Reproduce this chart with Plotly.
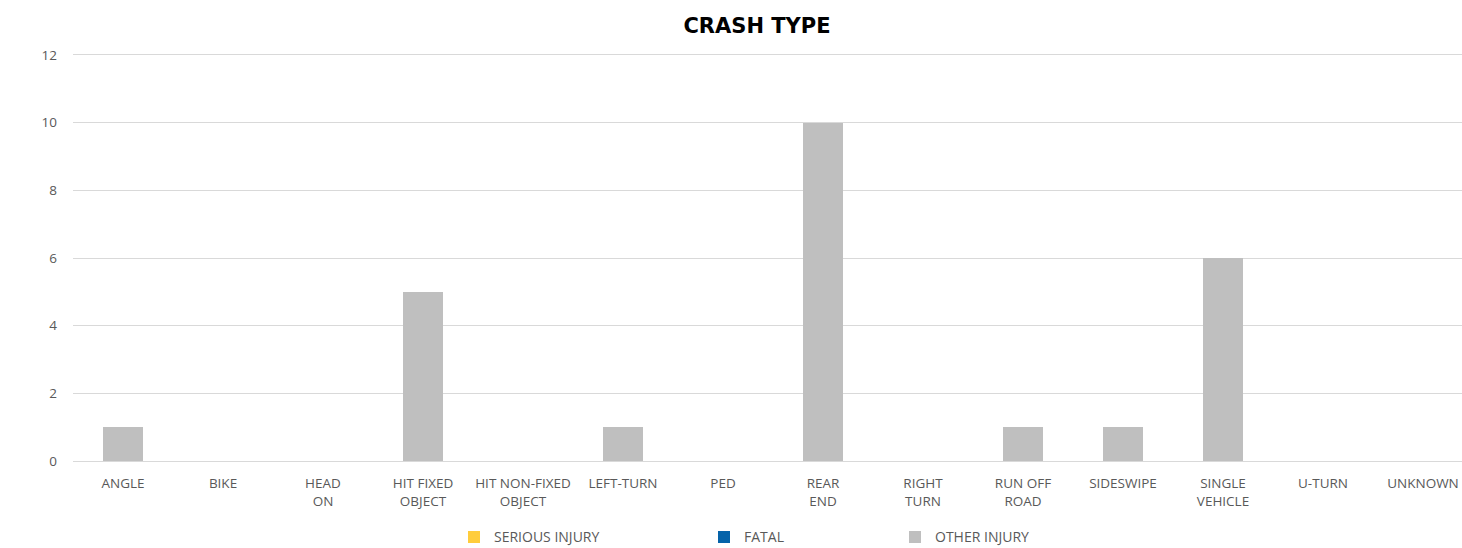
import plotly.graph_objects as go

categories = ["ANGLE", "BIKE", "HEAD<br>ON", "HIT FIXED<br>OBJECT", "HIT NON-FIXED<br>OBJECT",
              "LEFT-TURN", "PED", "REAR<br>END", "RIGHT<br>TURN", "RUN OFF<br>ROAD",
              "SIDESWIPE", "SINGLE<br>VEHICLE", "U-TURN", "UNKNOWN"]
serious_injury = [0, 0, 0, 0, 0, 0, 0, 0, 0, 0, 0, 0, 0, 0]
fatal = [0, 0, 0, 0, 0, 0, 0, 0, 0, 0, 0, 0, 0, 0]
other_injury = [1, 0, 0, 5, 0, 1, 0, 10, 0, 1, 1, 6, 0, 0]

FONT = "Open Sans"
fig = go.Figure()
series = [("SERIOUS INJURY", serious_injury, "#FFCD3C", "legend"),
          ("FATAL", fatal, "#0563A9", "legend2"),
          ("OTHER INJURY", other_injury, "#BFBFBF", "legend3")]
for name, vals, col, lg in series:
    fig.add_trace(go.Bar(x=list(range(len(categories))), y=vals, name=name,
                         marker=dict(color=col, line=dict(width=0)), width=0.4,
                         legend=lg, showlegend=True))

leg_common = dict(orientation="h", yanchor="middle", y=-0.188, xref="paper",
                  font=dict(family=FONT, size=14, color="#595959"),
                  bgcolor="rgba(0,0,0,0)", itemwidth=30, visible=True,
                  borderwidth=0, tracegroupgap=0)
PL, PW = 73, 1389
fig.update_layout(
    width=1462, height=548,
    margin=dict(l=PL, r=0, t=55, b=87, autoexpand=False),
    paper_bgcolor="white", plot_bgcolor="white",
    barmode="stack",
    title=dict(text="<b>CRASH TYPE</b>", x=757 / 1462, xanchor="center", y=1 - 26 / 548,
               yanchor="middle", font=dict(family="DejaVu Sans", size=21, color="#000000")),
    xaxis=dict(tickmode="array", tickvals=list(range(len(categories))), ticktext=categories,
               range=[-0.5, 13.39], showgrid=False, zeroline=False,
               showline=True, mirror=True, linecolor="#D9D9D9", linewidth=1.3,
               automargin=False, ticks="", ticklabelstandoff=10,
               tickfont=dict(family=FONT, size=13.5, color="#595959")),
    yaxis=dict(range=[0, 12], dtick=2, showgrid=True, gridcolor="#D9D9D9", gridwidth=1.3,
               zeroline=True, zerolinecolor="#D9D9D9", zerolinewidth=1.3,
               automargin=False, ticks="", ticklabelstandoff=15,
               tickfont=dict(family=FONT, size=13.5, color="#595959")),
    legend=dict(x=(454 - PL) / PW, xanchor="left", **leg_common),
    legend2=dict(x=(704 - PL) / PW, xanchor="left", **leg_common),
    legend3=dict(x=(895 - PL) / PW, xanchor="left", **leg_common),
)
fig.write_html("out.html", config={"displayModeBar": False},
               post_script="document.body.style.margin='0';")
